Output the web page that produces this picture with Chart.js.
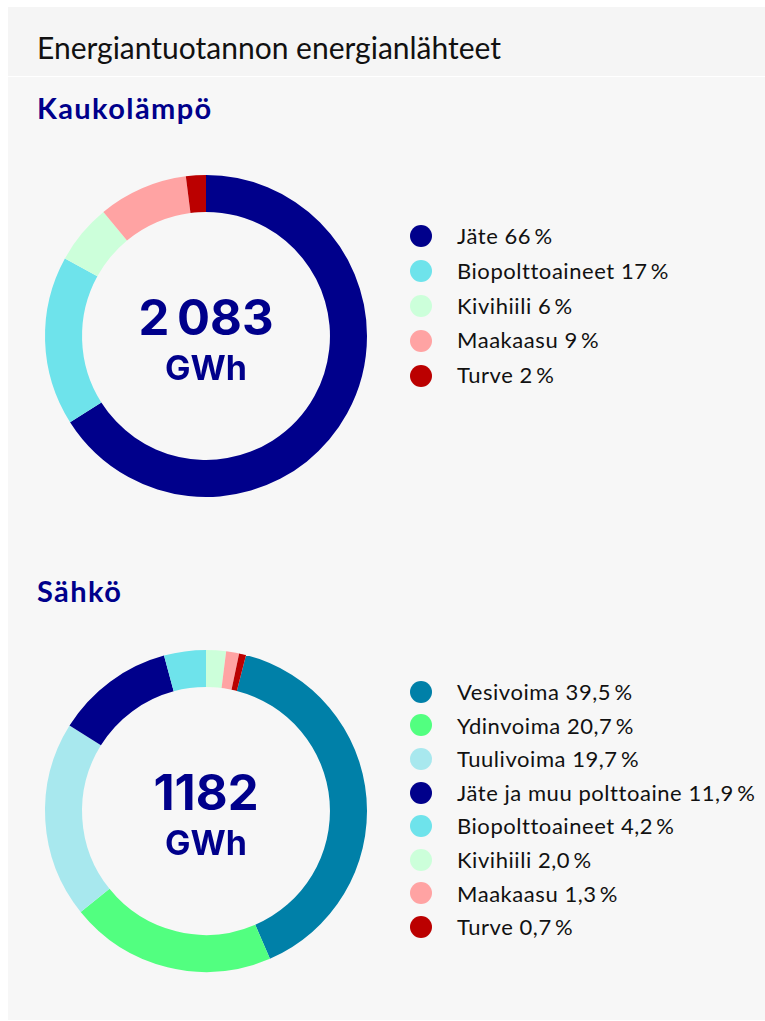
<!DOCTYPE html>
<html>
<head>
<meta charset="utf-8">
<script src="https://cdn.jsdelivr.net/npm/chart.js@4.4.1/dist/chart.umd.min.js"></script>
<style>
  html, body { margin: 0; padding: 0; background: #ffffff; width: 765px; height: 1021px; overflow: hidden; }
  #card { position: absolute; left: 8px; top: 7px; width: 757px; height: 1013px; background: #f7f7f7; }
  #head { position: absolute; left: 0; top: 0; width: 757px; height: 69px; background: #f5f5f5; border-bottom: 1px solid #ffffff; }
  .title { position: absolute; left: 29px; top: 25px; font-family: Lato, sans-serif; font-size: 30px; line-height: 30px; color: #111111; white-space: nowrap; letter-spacing: 0px; }
  .sec { position: absolute; left: 29px; font-family: Lato, sans-serif; font-weight: 700; font-size: 29px; line-height: 29px; color: #00008b; white-space: nowrap; letter-spacing: 1.4px; }
  canvas { position: absolute; }
  .legend { position: absolute; left: 402px; font-family: Lato, sans-serif; font-size: 22px; color: #111111; letter-spacing: 0.55px; }
  .legend .row { position: relative; white-space: nowrap; padding-left: 47px; }
  .legend .dot { position: absolute; left: 0; width: 22px; height: 22px; border-radius: 50%; }
</style>
</head>
<body>
<div id="card">
  <div id="head"><div class="title">Energiantuotannon energianlähteet</div></div>
  <div class="sec" id="sec1" style="top:86px">Kaukolämpö</div>
  <div class="sec" id="sec2" style="top:569px">Sähkö</div>
  <div class="legend" id="leg1" style="top:212px"></div>
  <div class="legend" id="leg2" style="top:668px"></div>
</div>
<canvas id="c1" width="340" height="340" style="left:36px; top:166px"></canvas>
<canvas id="c2" width="340" height="340" style="left:36px; top:641px"></canvas>
<script>
// ---- Data ----
const heatLabels = ['Jäte', 'Biopolttoaineet', 'Kivihiili', 'Maakaasu', 'Turve'];
const heatValues = [66, 17, 6, 9, 2];
const heatColors = ['#00008b', '#6ee3eb', '#ccffda', '#ffa3a3', '#bb0000'];
const heatTotal = '2\u2009083';

const elecLabels = ['Vesivoima', 'Ydinvoima', 'Tuulivoima', 'Jäte ja muu polttoaine', 'Biopolttoaineet', 'Kivihiili', 'Maakaasu', 'Turve'];
const elecValues = [39.5, 20.7, 19.7, 11.9, 4.2, 2.0, 1.3, 0.7];
const elecColors = ['#0080a8', '#52ff80', '#a8e8ee', '#00008b', '#6ee3eb', '#ccffda', '#ffa3a3', '#bb0000'];
const elecTotal = '1182';

const unitLabel = 'GWh';

// ---- Helpers ----
function fmtInt(v) { return v + '\u2009%'; }
function fmtDec(v) { return v.toFixed(1).replace('.', ',') + '\u2009%'; }

function buildLegend(el, labels, values, colors, fmt, rowH) {
  labels.forEach((l, i) => {
    const row = document.createElement('div');
    row.className = 'row';
    row.style.height = rowH + 'px';
    row.style.lineHeight = rowH + 'px';
    const dot = document.createElement('span');
    dot.className = 'dot';
    dot.style.top = ((rowH - 22) / 2) + 'px';
    dot.style.background = colors[i];
    row.appendChild(dot);
    row.appendChild(document.createTextNode(l + ' ' + fmt(values[i])));
    el.appendChild(row);
  });
}
buildLegend(document.getElementById('leg1'), heatLabels, heatValues, heatColors, fmtInt, 34.8);
buildLegend(document.getElementById('leg2'), elecLabels, elecValues, elecColors, fmtDec, 33.6);

const centerText = {
  id: 'centerText',
  afterDraw(chart, args, opts) {
    const arc = chart.getDatasetMeta(0).data[0];
    if (!arc) return;
    const ctx = chart.ctx;
    ctx.save();
    ctx.fillStyle = '#00008b';
    ctx.textAlign = 'center';
    ctx.textBaseline = 'alphabetic';
    ctx.font = '700 49px Inter, sans-serif';
    ctx.fillText(opts.value, arc.x, arc.y - 1);
    ctx.font = '700 34px Inter, sans-serif';
    ctx.fillText(opts.unit, arc.x, arc.y + 44);
    ctx.restore();
  }
};

function makeChart(id, labels, values, colors, total, rotation) {
  new Chart(document.getElementById(id), {
    type: 'doughnut',
    data: {
      labels: labels,
      datasets: [{ data: values, backgroundColor: colors, borderWidth: 0, hoverOffset: 0 }]
    },
    options: {
      responsive: false,
      animation: false,
      radius: 161,
      cutout: '77%',
      rotation: rotation,
      layout: { padding: 0 },
      plugins: {
        legend: { display: false },
        tooltip: { enabled: false },
        centerText: { value: total, unit: unitLabel }
      }
    },
    plugins: [centerText]
  });
}
makeChart('c1', heatLabels, heatValues, heatColors, heatTotal, 0);
makeChart('c2', elecLabels, elecValues, elecColors, elecTotal, 14.4);
</script>
</body>
</html>
